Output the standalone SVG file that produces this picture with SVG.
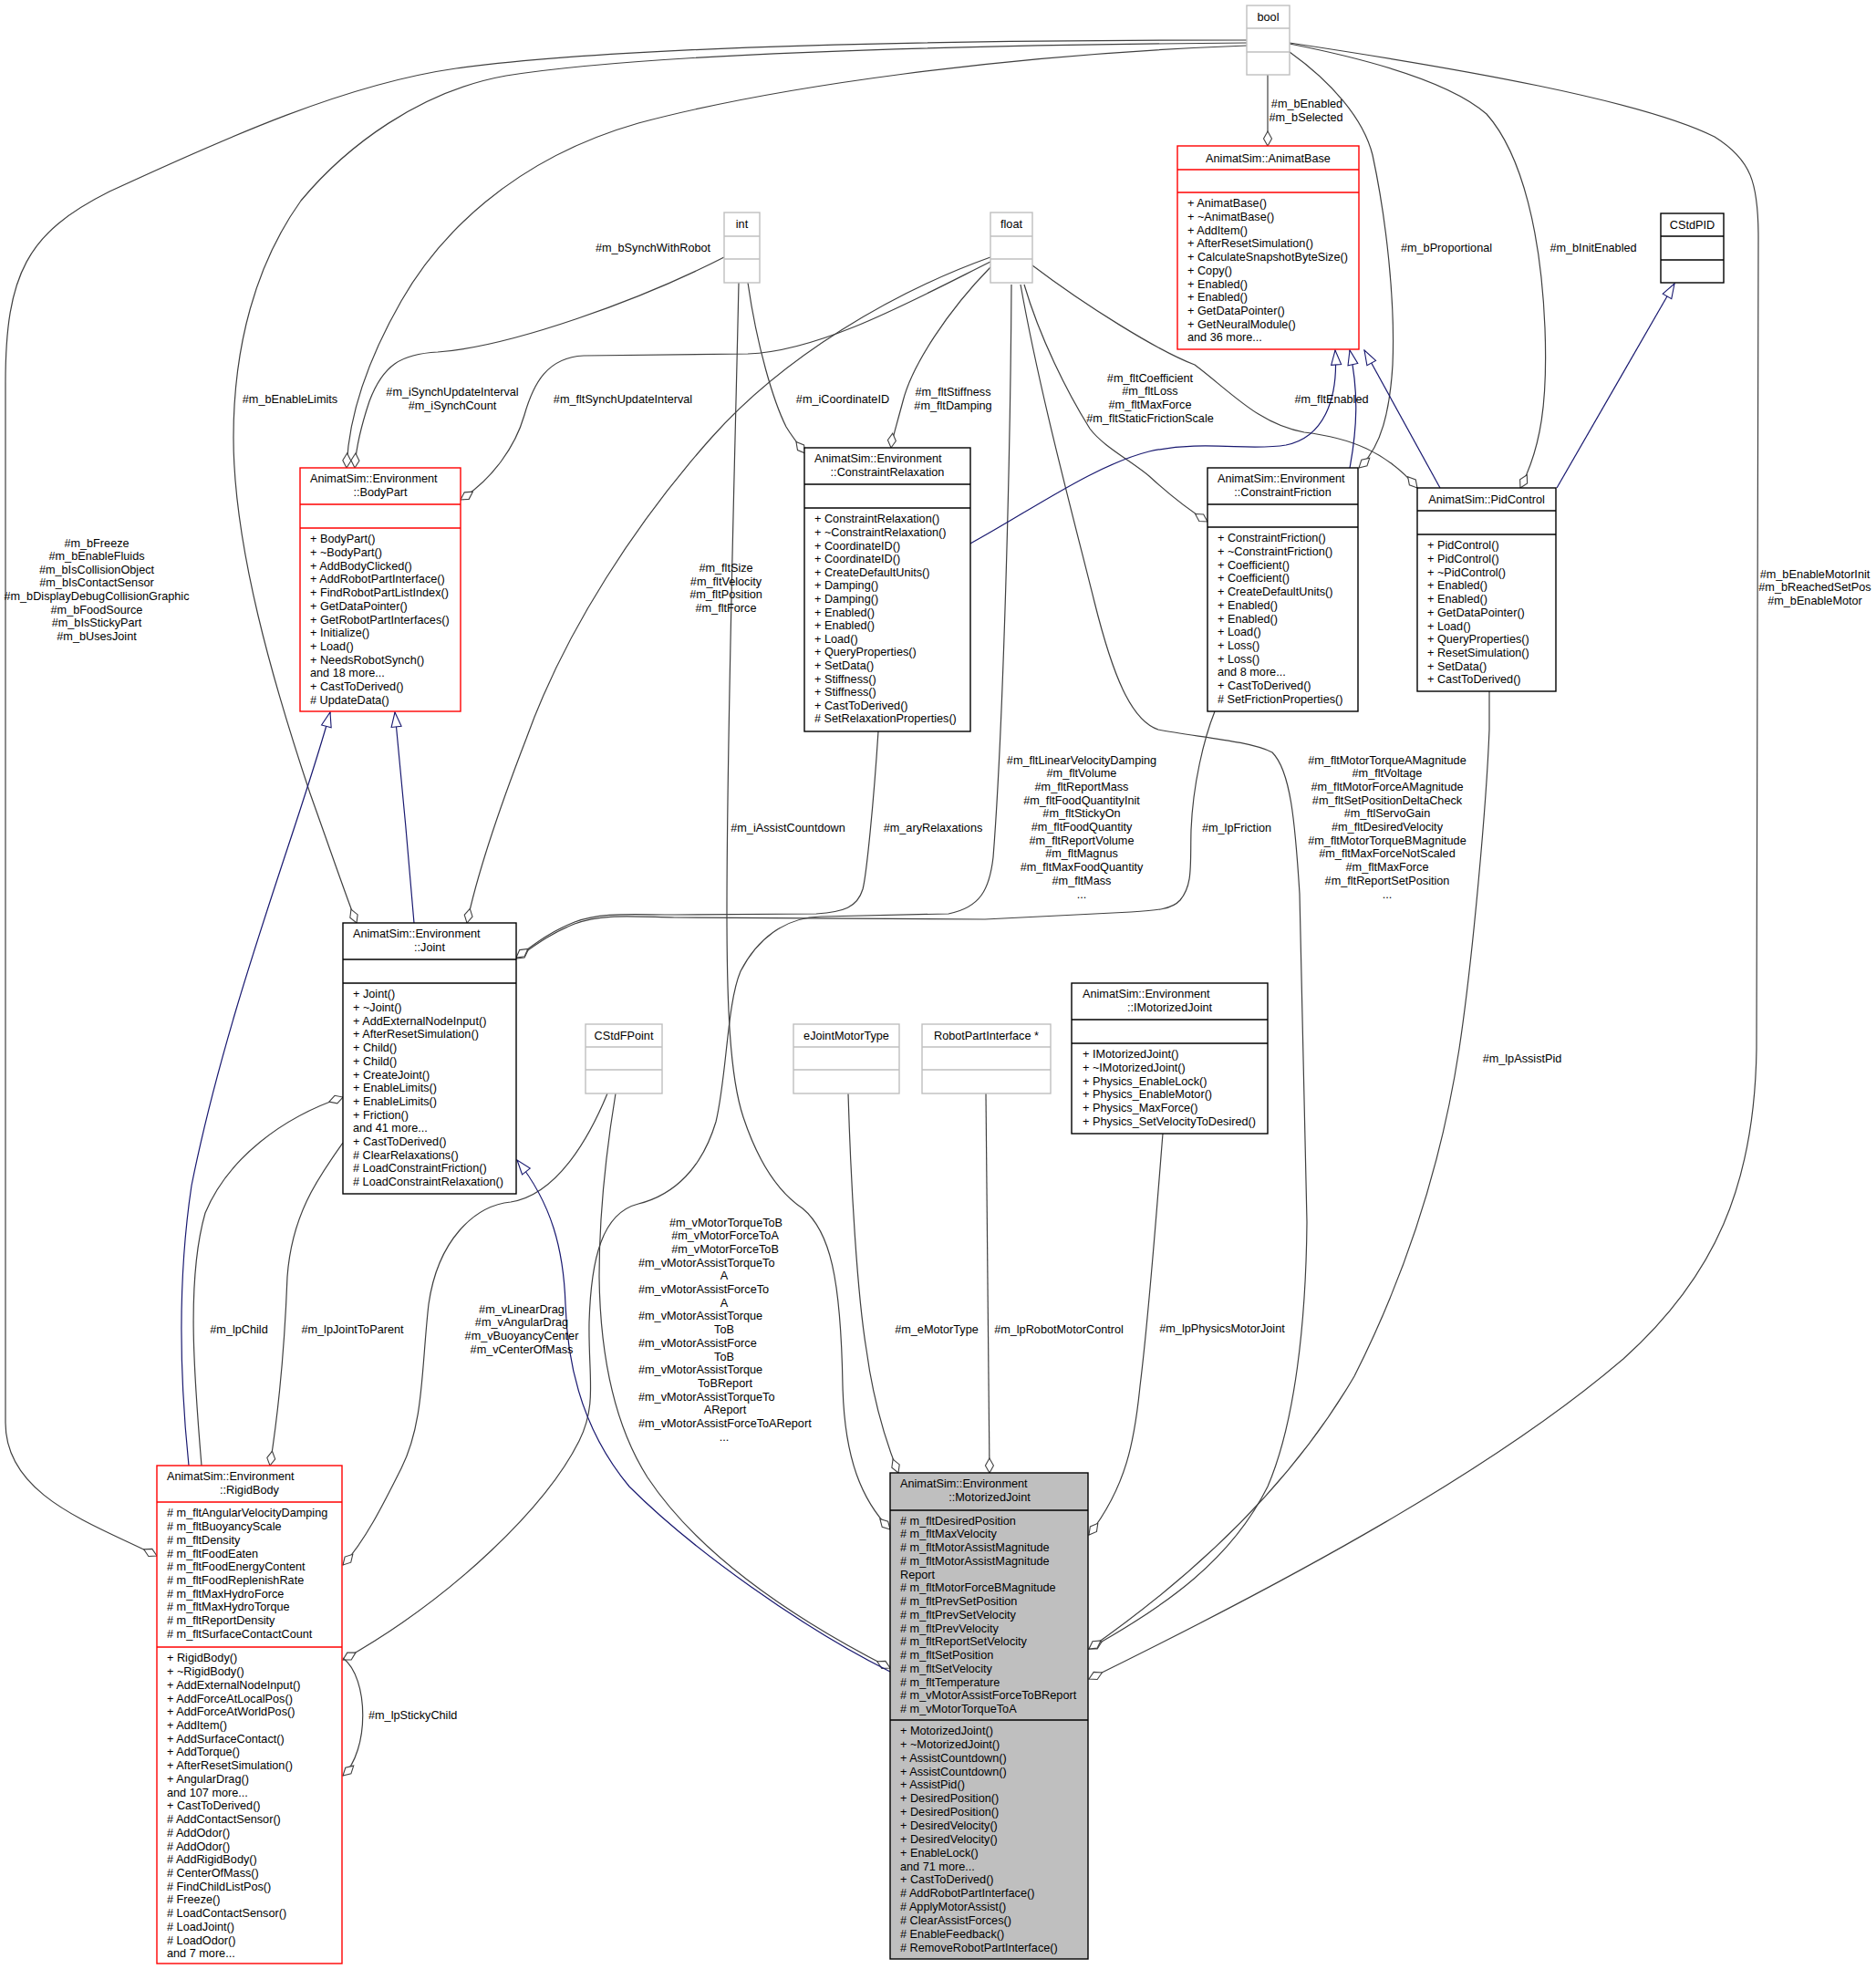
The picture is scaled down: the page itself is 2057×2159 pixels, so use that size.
<svg xmlns="http://www.w3.org/2000/svg" width="2057" height="2159" viewBox="0 0 2057 2159">
<style>
.t{font-family:"Liberation Sans",Arial,Helvetica,sans-serif;font-size:12.7px;fill:#000}
.m{text-anchor:middle}
.e{fill:none;stroke:#404040;stroke-width:1.2}
.b{fill:none;stroke:#191970;stroke-width:1.2}
.n{fill:#fff;stroke:#000;stroke-width:1.4}
.r{fill:#fff;stroke:#ff0000;stroke-width:1.4}
.g{fill:#fff;stroke:#bfbfbf;stroke-width:1.4}
.gf{fill:#bfbfbf;stroke:#000;stroke-width:1.4}
.ln{stroke:#000;stroke-width:1.4}
.lr{stroke:#ff0000;stroke-width:1.4}
.lg{stroke:#bfbfbf;stroke-width:1.4}
.e{marker-end:url(#dia)}
.b{marker-end:url(#tri)}
</style>
<defs>
<marker id="dia" markerUnits="userSpaceOnUse" markerWidth="18" markerHeight="12" viewBox="-1 -6 18 12" refX="16" refY="0" orient="auto"><path d="M0,0 L8,-4.5 L16,0 L8,4.5 Z" fill="#fff" stroke="#404040" stroke-width="1.1"/></marker>
<marker id="tri" markerUnits="userSpaceOnUse" markerWidth="18" markerHeight="14" viewBox="-1 -7 18 14" refX="16" refY="0" orient="auto"><path d="M0,-5.5 L16,0 L0,5.5 Z" fill="#fff" stroke="#191970" stroke-width="1.1"/></marker>
</defs>
<rect width="2057" height="2159" fill="#fff"/>

<g id="connectors">
<path class="e" d="M1367,44 C1100,44 700,48 500,75 C380,92 250,150 120,210 C30,255 6,300 6,420 L6,1560 C6,1640 100,1670 172,1706"/>
<path class="e" d="M1367,47 C1000,50 700,60 555,83 C460,100 380,160 330,220 C280,290 256,380 256,480 C256,600 300,750 340,870 C365,940 382,990 391,1012"/>
<path class="e" d="M1367,50 C1100,60 850,95 700,135 C560,175 480,260 440,330 C400,400 382,460 380,513"/>
<path class="e" d="M1390,82 L1390,160"/>
<path class="e" d="M1414,57 C1460,90 1495,130 1505,170 C1520,240 1530,330 1527,400 C1524,450 1515,490 1490,513"/>
<path class="e" d="M1414,48 C1500,65 1590,90 1630,125 C1670,170 1690,260 1694,360 C1697,440 1690,490 1667,535"/>
<path class="e" d="M1414,47 C1600,75 1800,110 1880,150 C1920,175 1928,200 1928,260 L1926,1150 C1924,1300 1880,1400 1780,1490 C1640,1610 1420,1730 1194,1841"/>
<path class="e" d="M794,282 C700,330 560,380 480,386 C440,388 420,400 405,440 C395,470 390,495 389,513"/>
<path class="e" d="M820,310 C830,380 848,440 862,468 C868,478 875,487 883,497"/>
<path class="e" d="M810,310 C806,500 797,800 797,1000 C797,1100 800,1180 815,1225 C830,1270 850,1305 880,1325 C910,1350 922,1400 924,1520 C926,1600 945,1645 976,1677"/>
<path class="e" d="M1086,287 C1000,330 900,385 820,388 L640,390 C600,392 585,420 575,455 C565,490 540,525 505,548"/>
<path class="e" d="M1086,282 C980,320 860,390 780,480 C700,570 620,690 577,810 C550,880 525,950 512,1012"/>
<path class="e" d="M1086,293 C1040,340 1000,400 990,440 C982,470 978,482 977,491"/>
<path class="e" d="M1123,312 C1140,370 1170,430 1195,470 C1210,490 1240,505 1260,522 C1285,545 1305,560 1324,572"/>
<path class="e" d="M1132,291 C1190,335 1270,385 1310,400 C1350,430 1380,465 1430,474 C1480,480 1520,495 1554,535"/>
<path class="e" d="M1109,312 C1108,500 1100,800 1089,940 C1085,975 1075,995 1040,1002 L900,1005 C860,1006 830,1030 812,1065 C797,1100 797,1180 785,1230 C770,1280 740,1310 700,1320 C660,1330 648,1380 646,1450 C645,1510 655,1540 635,1580 C600,1650 500,1750 376,1820"/>
<path class="e" d="M1119,312 C1140,430 1175,560 1200,660 C1220,740 1240,790 1270,800 C1310,808 1370,812 1395,825 C1415,845 1420,900 1425,980 L1433,1340 C1432,1450 1420,1560 1390,1630 C1350,1710 1280,1760 1194,1808"/>
<path class="e" d="M1332,780 C1320,810 1308,860 1306,910 C1305,950 1308,970 1294,987 C1285,997 1270,998 1240,1000 L1080,1008 L740,1006 C690,1005 660,1002 630,1013 C605,1023 590,1034 566,1051"/>
<path class="e" d="M963,802 C958,880 950,960 946,975 C940,995 925,1000 895,1002 L740,1003 C690,1003 660,1000 630,1011 C605,1021 590,1032 566,1050"/>
<path class="e" d="M1633,758 L1633,800 C1630,880 1615,1050 1600,1150 C1580,1280 1540,1400 1485,1509 C1420,1620 1320,1720 1194,1808"/>
<path class="e" d="M1275,1243 C1268,1330 1260,1440 1250,1520 C1244,1580 1235,1630 1194,1683"/>
<path class="e" d="M1081,1199 C1082,1350 1084,1500 1085,1615"/>
<path class="e" d="M930,1199 C933,1300 940,1420 950,1480 C958,1540 975,1590 985,1615"/>
<path class="e" d="M675,1199 C665,1260 657,1330 657,1400 C658,1480 672,1560 710,1620 C770,1710 880,1780 976,1829"/>
<path class="e" d="M666,1199 C645,1250 610,1310 560,1318 C520,1322 480,1360 470,1430 C462,1500 465,1560 440,1610 C420,1650 400,1690 376,1716"/>
<path class="e" d="M221,1607 C212,1500 205,1400 225,1330 C250,1270 310,1225 376,1203"/>
<path class="e" d="M376,1253 C350,1290 320,1330 315,1400 C312,1480 305,1550 296,1607"/>
<path class="e" d="M376,1818 C405,1840 405,1920 376,1947"/>
<path class="b" d="M976,1833 C880,1785 760,1700 690,1630 C640,1570 622,1500 620,1430 C618,1370 605,1320 567,1272"/>
<path class="b" d="M207,1607 C196,1500 195,1400 210,1300 C250,1100 330,900 362,781"/>
<path class="b" d="M454,1012 C448,940 440,850 433,781"/>
<path class="b" d="M1064,596 C1130,560 1200,510 1260,495 C1320,482 1370,495 1410,488 C1450,480 1468,440 1464,384"/>
<path class="b" d="M1480,513 C1488,470 1490,430 1480,384"/>
<path class="b" d="M1579,535 L1496,384"/>
<path class="b" d="M1707,535 L1836,311"/>

<text class="t m"><tspan x="106" y="599.5">#m_bFreeze</tspan><tspan x="106" y="614.1">#m_bEnableFluids</tspan><tspan x="106" y="628.7">#m_bIsCollisionObject</tspan><tspan x="106" y="643.3">#m_bIsContactSensor</tspan><tspan x="106" y="657.9">#m_bDisplayDebugCollisionGraphic</tspan><tspan x="106" y="672.5">#m_bFoodSource</tspan><tspan x="106" y="687.1">#m_bIsStickyPart</tspan><tspan x="106" y="701.7">#m_bUsesJoint</tspan></text>
<text class="t m" x="318" y="441.5">#m_bEnableLimits</text>
<text class="t m"><tspan x="496" y="433.5">#m_iSynchUpdateInterval</tspan><tspan x="496" y="448.5">#m_iSynchCount</tspan></text>
<text class="t m" x="716" y="275.5">#m_bSynchWithRobot</text>
<text class="t m" x="683" y="441.5">#m_fltSynchUpdateInterval</text>
<text class="t m" x="924" y="441.5">#m_iCoordinateID</text>
<text class="t m"><tspan x="1045" y="433.5">#m_fltStiffness</tspan><tspan x="1045" y="448.5">#m_fltDamping</tspan></text>
<text class="t m"><tspan x="1261" y="418.5">#m_fltCoefficient</tspan><tspan x="1261" y="433.2">#m_fltLoss</tspan><tspan x="1261" y="447.9">#m_fltMaxForce</tspan><tspan x="1261" y="462.6">#m_fltStaticFrictionScale</tspan></text>
<text class="t m"><tspan x="1433" y="117.5">#m_bEnabled</tspan><tspan x="1432" y="132.5">#m_bSelected</tspan></text>
<text class="t m" x="1460" y="441.5">#m_fltEnabled</text>
<text class="t m" x="1586" y="275.5">#m_bProportional</text>
<text class="t m" x="1747" y="275.5">#m_bInitEnabled</text>
<text class="t m"><tspan x="1990" y="633.5">#m_bEnableMotorInit</tspan><tspan x="1990" y="648">#m_bReachedSetPos</tspan><tspan x="1990" y="662.5">#m_bEnableMotor</tspan></text>
<text class="t m"><tspan x="796" y="627">#m_fltSize</tspan><tspan x="796" y="641.7">#m_fltVelocity</tspan><tspan x="796" y="656.4">#m_fltPosition</tspan><tspan x="796" y="671.1">#m_fltForce</tspan></text>
<text class="t m" x="864" y="911.5">#m_iAssistCountdown</text>
<text class="t m" x="1023" y="911.5">#m_aryRelaxations</text>
<text class="t m"><tspan x="1186" y="837.5">#m_fltLinearVelocityDamping</tspan><tspan x="1186" y="852.2">#m_fltVolume</tspan><tspan x="1186" y="866.9">#m_fltReportMass</tspan><tspan x="1186" y="881.6">#m_fltFoodQuantityInit</tspan><tspan x="1186" y="896.3">#m_fltStickyOn</tspan><tspan x="1186" y="911">#m_fltFoodQuantity</tspan><tspan x="1186" y="925.7">#m_fltReportVolume</tspan><tspan x="1186" y="940.4">#m_fltMagnus</tspan><tspan x="1186" y="955.1">#m_fltMaxFoodQuantity</tspan><tspan x="1186" y="969.8">#m_fltMass</tspan><tspan x="1186" y="984.5">...</tspan></text>
<text class="t m" x="1356" y="911.5">#m_lpFriction</text>
<text class="t m"><tspan x="1521" y="837.5">#m_fltMotorTorqueAMagnitude</tspan><tspan x="1521" y="852.2">#m_fltVoltage</tspan><tspan x="1521" y="866.9">#m_fltMotorForceAMagnitude</tspan><tspan x="1521" y="881.6">#m_fltSetPositionDeltaCheck</tspan><tspan x="1521" y="896.3">#m_ftlServoGain</tspan><tspan x="1521" y="911">#m_fltDesiredVelocity</tspan><tspan x="1521" y="925.7">#m_fltMotorTorqueBMagnitude</tspan><tspan x="1521" y="940.4">#m_fltMaxForceNotScaled</tspan><tspan x="1521" y="955.1">#m_fltMaxForce</tspan><tspan x="1521" y="969.8">#m_fltReportSetPosition</tspan><tspan x="1521" y="984.5">...</tspan></text>
<text class="t m" x="1669" y="1164.5">#m_lpAssistPid</text>
<text class="t m" x="1340" y="1460.5">#m_lpPhysicsMotorJoint</text>
<text class="t m" x="1161" y="1461.5">#m_lpRobotMotorControl</text>
<text class="t m" x="1027" y="1461.5">#m_eMotorType</text>
<text class="t"><tspan x="796" y="1344.5" text-anchor="middle">#m_vMotorTorqueToB</tspan><tspan x="795" y="1359.2" text-anchor="middle">#m_vMotorForceToA</tspan><tspan x="795" y="1373.9" text-anchor="middle">#m_vMotorForceToB</tspan><tspan x="700" y="1388.6">#m_vMotorAssistTorqueTo</tspan><tspan x="794" y="1403.3" text-anchor="middle">A</tspan><tspan x="700" y="1418">#m_vMotorAssistForceTo</tspan><tspan x="794" y="1432.7" text-anchor="middle">A</tspan><tspan x="700" y="1447.4">#m_vMotorAssistTorque</tspan><tspan x="794" y="1462.1" text-anchor="middle">ToB</tspan><tspan x="700" y="1476.8">#m_vMotorAssistForce</tspan><tspan x="794" y="1491.5" text-anchor="middle">ToB</tspan><tspan x="700" y="1506.2">#m_vMotorAssistTorque</tspan><tspan x="795" y="1520.9" text-anchor="middle">ToBReport</tspan><tspan x="700" y="1535.6">#m_vMotorAssistTorqueTo</tspan><tspan x="795" y="1550.3" text-anchor="middle">AReport</tspan><tspan x="700" y="1565">#m_vMotorAssistForceToAReport</tspan><tspan x="794" y="1579.7" text-anchor="middle">...</tspan></text>
<text class="t m"><tspan x="572" y="1439.5">#m_vLinearDrag</tspan><tspan x="572" y="1454.2">#m_vAngularDrag</tspan><tspan x="572" y="1468.9">#m_vBuoyancyCenter</tspan><tspan x="572" y="1483.6">#m_vCenterOfMass</tspan></text>
<text class="t m" x="262" y="1461.5">#m_lpChild</text>
<text class="t m" x="386.5" y="1461.5">#m_lpJointToParent</text>
<text class="t" x="404" y="1884.5">#m_lpStickyChild</text>
</g>

<g id="bool"><rect class="g" x="1367" y="6" width="47" height="76"/><line class="lg" x1="1367" y1="31" x2="1414" y2="31"/><line class="lg" x1="1367" y1="57" x2="1414" y2="57"/><text class="t m" x="1390.5" y="23">bool</text></g>
<g id="int"><rect class="g" x="794" y="233" width="39" height="77"/><line class="lg" x1="794" y1="259" x2="833" y2="259"/><line class="lg" x1="794" y1="284" x2="833" y2="284"/><text class="t m" x="813.5" y="250">int</text></g>
<g id="float"><rect class="g" x="1086" y="233" width="46" height="77"/><line class="lg" x1="1086" y1="259" x2="1132" y2="259"/><line class="lg" x1="1086" y1="284" x2="1132" y2="284"/><text class="t m" x="1109" y="250">float</text></g>
<g id="CStdPID"><rect class="n" x="1821" y="234" width="69" height="76"/><line class="ln" x1="1821" y1="259" x2="1890" y2="259"/><line class="ln" x1="1821" y1="285" x2="1890" y2="285"/><text class="t m" x="1855.5" y="251">CStdPID</text></g>
<g id="CStdFPoint"><rect class="g" x="642" y="1123" width="84" height="76"/><line class="lg" x1="642" y1="1148" x2="726" y2="1148"/><line class="lg" x1="642" y1="1173" x2="726" y2="1173"/><text class="t m" x="684" y="1140">CStdFPoint</text></g>
<g id="eJointMotorType"><rect class="g" x="870" y="1123" width="116" height="76"/><line class="lg" x1="870" y1="1148" x2="986" y2="1148"/><line class="lg" x1="870" y1="1173" x2="986" y2="1173"/><text class="t m" x="928" y="1140">eJointMotorType</text></g>
<g id="RobotPartInterface"><rect class="g" x="1011" y="1123" width="141" height="76"/><line class="lg" x1="1011" y1="1148" x2="1152" y2="1148"/><line class="lg" x1="1011" y1="1173" x2="1152" y2="1173"/><text class="t m" x="1081.5" y="1140">RobotPartInterface *</text></g>

<g id="AnimatBase"><rect class="r" x="1291" y="160" width="199" height="223"/><line class="lr" x1="1291" y1="186" x2="1490" y2="186"/><line class="lr" x1="1291" y1="211" x2="1490" y2="211"/><text class="t m" x="1390.5" y="177.5">AnimatSim::AnimatBase</text>
<text class="t"><tspan x="1302" y="227.3">+ AnimatBase()</tspan><tspan x="1302" y="242">+ ~AnimatBase()</tspan><tspan x="1302" y="256.7">+ AddItem()</tspan><tspan x="1302" y="271.4">+ AfterResetSimulation()</tspan><tspan x="1302" y="286.1">+ CalculateSnapshotByteSize()</tspan><tspan x="1302" y="300.8">+ Copy()</tspan><tspan x="1302" y="315.5">+ Enabled()</tspan><tspan x="1302" y="330.2">+ Enabled()</tspan><tspan x="1302" y="344.9">+ GetDataPointer()</tspan><tspan x="1302" y="359.6">+ GetNeuralModule()</tspan><tspan x="1302" y="374.3">and 36 more...</tspan></text></g>

<g id="BodyPart"><rect class="r" x="329" y="513" width="176" height="267"/><line class="lr" x1="329" y1="553" x2="505" y2="553"/><line class="lr" x1="329" y1="579" x2="505" y2="579"/><text class="t" x="340" y="529.3">AnimatSim::Environment</text><text class="t m" x="417" y="544">::BodyPart</text>
<text class="t"><tspan x="340" y="595.3">+ BodyPart()</tspan><tspan x="340" y="610">+ ~BodyPart()</tspan><tspan x="340" y="624.7">+ AddBodyClicked()</tspan><tspan x="340" y="639.4">+ AddRobotPartInterface()</tspan><tspan x="340" y="654.1">+ FindRobotPartListIndex()</tspan><tspan x="340" y="668.8">+ GetDataPointer()</tspan><tspan x="340" y="683.5">+ GetRobotPartInterfaces()</tspan><tspan x="340" y="698.2">+ Initialize()</tspan><tspan x="340" y="712.9">+ Load()</tspan><tspan x="340" y="727.6">+ NeedsRobotSynch()</tspan><tspan x="340" y="742.3">and 18 more...</tspan><tspan x="340" y="757">+ CastToDerived()</tspan><tspan x="340" y="771.7"># UpdateData()</tspan></text></g>

<g id="ConstraintRelaxation"><rect class="n" x="882" y="491" width="182" height="311"/><line class="ln" x1="882" y1="531" x2="1064" y2="531"/><line class="ln" x1="882" y1="557" x2="1064" y2="557"/><text class="t" x="893" y="507.3">AnimatSim::Environment</text><text class="t m" x="973" y="522">::ConstraintRelaxation</text>
<text class="t"><tspan x="893" y="573.3">+ ConstraintRelaxation()</tspan><tspan x="893" y="587.9">+ ~ConstraintRelaxation()</tspan><tspan x="893" y="602.5">+ CoordinateID()</tspan><tspan x="893" y="617.1">+ CoordinateID()</tspan><tspan x="893" y="631.7">+ CreateDefaultUnits()</tspan><tspan x="893" y="646.3">+ Damping()</tspan><tspan x="893" y="660.9">+ Damping()</tspan><tspan x="893" y="675.5">+ Enabled()</tspan><tspan x="893" y="690.1">+ Enabled()</tspan><tspan x="893" y="704.7">+ Load()</tspan><tspan x="893" y="719.3">+ QueryProperties()</tspan><tspan x="893" y="733.9">+ SetData()</tspan><tspan x="893" y="748.5">+ Stiffness()</tspan><tspan x="893" y="763.1">+ Stiffness()</tspan><tspan x="893" y="777.7">+ CastToDerived()</tspan><tspan x="893" y="792.3"># SetRelaxationProperties()</tspan></text></g>

<g id="ConstraintFriction"><rect class="n" x="1324" y="513" width="165" height="267"/><line class="ln" x1="1324" y1="553" x2="1489" y2="553"/><line class="ln" x1="1324" y1="578" x2="1489" y2="578"/><text class="t" x="1335" y="529.3">AnimatSim::Environment</text><text class="t m" x="1406.5" y="544">::ConstraintFriction</text>
<text class="t"><tspan x="1335" y="594.3">+ ConstraintFriction()</tspan><tspan x="1335" y="609">+ ~ConstraintFriction()</tspan><tspan x="1335" y="623.7">+ Coefficient()</tspan><tspan x="1335" y="638.4">+ Coefficient()</tspan><tspan x="1335" y="653.1">+ CreateDefaultUnits()</tspan><tspan x="1335" y="667.8">+ Enabled()</tspan><tspan x="1335" y="682.5">+ Enabled()</tspan><tspan x="1335" y="697.2">+ Load()</tspan><tspan x="1335" y="711.9">+ Loss()</tspan><tspan x="1335" y="726.6">+ Loss()</tspan><tspan x="1335" y="741.3">and 8 more...</tspan><tspan x="1335" y="756">+ CastToDerived()</tspan><tspan x="1335" y="770.7"># SetFrictionProperties()</tspan></text></g>

<g id="PidControl"><rect class="n" x="1554" y="535" width="152" height="223"/><line class="ln" x1="1554" y1="560" x2="1706" y2="560"/><line class="ln" x1="1554" y1="586" x2="1706" y2="586"/><text class="t m" x="1630" y="552">AnimatSim::PidControl</text>
<text class="t"><tspan x="1565" y="602.3">+ PidControl()</tspan><tspan x="1565" y="617">+ PidControl()</tspan><tspan x="1565" y="631.7">+ ~PidControl()</tspan><tspan x="1565" y="646.4">+ Enabled()</tspan><tspan x="1565" y="661.1">+ Enabled()</tspan><tspan x="1565" y="675.8">+ GetDataPointer()</tspan><tspan x="1565" y="690.5">+ Load()</tspan><tspan x="1565" y="705.2">+ QueryProperties()</tspan><tspan x="1565" y="719.9">+ ResetSimulation()</tspan><tspan x="1565" y="734.6">+ SetData()</tspan><tspan x="1565" y="749.3">+ CastToDerived()</tspan></text></g>

<g id="Joint"><rect class="n" x="376" y="1012" width="190" height="297"/><line class="ln" x1="376" y1="1052" x2="566" y2="1052"/><line class="ln" x1="376" y1="1078" x2="566" y2="1078"/><text class="t" x="387" y="1028.3">AnimatSim::Environment</text><text class="t m" x="471" y="1043">::Joint</text>
<text class="t"><tspan x="387" y="1094.3">+ Joint()</tspan><tspan x="387" y="1109">+ ~Joint()</tspan><tspan x="387" y="1123.7">+ AddExternalNodeInput()</tspan><tspan x="387" y="1138.4">+ AfterResetSimulation()</tspan><tspan x="387" y="1153.1">+ Child()</tspan><tspan x="387" y="1167.8">+ Child()</tspan><tspan x="387" y="1182.5">+ CreateJoint()</tspan><tspan x="387" y="1197.2">+ EnableLimits()</tspan><tspan x="387" y="1211.9">+ EnableLimits()</tspan><tspan x="387" y="1226.6">+ Friction()</tspan><tspan x="387" y="1241.3">and 41 more...</tspan><tspan x="387" y="1256">+ CastToDerived()</tspan><tspan x="387" y="1270.7"># ClearRelaxations()</tspan><tspan x="387" y="1285.4"># LoadConstraintFriction()</tspan><tspan x="387" y="1300.1"># LoadConstraintRelaxation()</tspan></text></g>

<g id="IMotorizedJoint"><rect class="n" x="1175" y="1078" width="215" height="165"/><line class="ln" x1="1175" y1="1118" x2="1390" y2="1118"/><line class="ln" x1="1175" y1="1144" x2="1390" y2="1144"/><text class="t" x="1187" y="1094.3">AnimatSim::Environment</text><text class="t m" x="1282.5" y="1109">::IMotorizedJoint</text>
<text class="t"><tspan x="1187" y="1160.3">+ IMotorizedJoint()</tspan><tspan x="1187" y="1175">+ ~IMotorizedJoint()</tspan><tspan x="1187" y="1189.7">+ Physics_EnableLock()</tspan><tspan x="1187" y="1204.4">+ Physics_EnableMotor()</tspan><tspan x="1187" y="1219.1">+ Physics_MaxForce()</tspan><tspan x="1187" y="1233.8">+ Physics_SetVelocityToDesired()</tspan></text></g>

<g id="RigidBody"><rect class="r" x="172" y="1607" width="203" height="546"/><line class="lr" x1="172" y1="1647" x2="375" y2="1647"/><line class="lr" x1="172" y1="1806" x2="375" y2="1806"/><text class="t" x="183" y="1623.3">AnimatSim::Environment</text><text class="t m" x="273.5" y="1638">::RigidBody</text>
<text class="t"><tspan x="183" y="1663.3"># m_fltAngularVelocityDamping</tspan><tspan x="183" y="1678"># m_fltBuoyancyScale</tspan><tspan x="183" y="1692.8"># m_fltDensity</tspan><tspan x="183" y="1707.5"># m_fltFoodEaten</tspan><tspan x="183" y="1722.2"># m_fltFoodEnergyContent</tspan><tspan x="183" y="1737"># m_fltFoodReplenishRate</tspan><tspan x="183" y="1751.7"># m_fltMaxHydroForce</tspan><tspan x="183" y="1766.4"># m_fltMaxHydroTorque</tspan><tspan x="183" y="1781.1"># m_fltReportDensity</tspan><tspan x="183" y="1795.9"># m_fltSurfaceContactCount</tspan></text>
<text class="t"><tspan x="183" y="1822.3">+ RigidBody()</tspan><tspan x="183" y="1837">+ ~RigidBody()</tspan><tspan x="183" y="1851.8">+ AddExternalNodeInput()</tspan><tspan x="183" y="1866.5">+ AddForceAtLocalPos()</tspan><tspan x="183" y="1881.2">+ AddForceAtWorldPos()</tspan><tspan x="183" y="1896">+ AddItem()</tspan><tspan x="183" y="1910.7">+ AddSurfaceContact()</tspan><tspan x="183" y="1925.4">+ AddTorque()</tspan><tspan x="183" y="1940.1">+ AfterResetSimulation()</tspan><tspan x="183" y="1954.9">+ AngularDrag()</tspan><tspan x="183" y="1969.6">and 107 more...</tspan><tspan x="183" y="1984.3">+ CastToDerived()</tspan><tspan x="183" y="1999.1"># AddContactSensor()</tspan><tspan x="183" y="2013.8"># AddOdor()</tspan><tspan x="183" y="2028.5"># AddOdor()</tspan><tspan x="183" y="2043.3"># AddRigidBody()</tspan><tspan x="183" y="2058"># CenterOfMass()</tspan><tspan x="183" y="2072.7"># FindChildListPos()</tspan><tspan x="183" y="2087.4"># Freeze()</tspan><tspan x="183" y="2102.2"># LoadContactSensor()</tspan><tspan x="183" y="2116.9"># LoadJoint()</tspan><tspan x="183" y="2131.6"># LoadOdor()</tspan><tspan x="183" y="2146.4">and 7 more...</tspan></text></g>

<g id="MotorizedJoint"><rect class="gf" x="976" y="1615" width="217" height="533"/><line class="ln" x1="976" y1="1656" x2="1193" y2="1656"/><line class="ln" x1="976" y1="1886" x2="1193" y2="1886"/><text class="t" x="987" y="1631.3">AnimatSim::Environment</text><text class="t m" x="1085" y="1646">::MotorizedJoint</text>
<text class="t"><tspan x="987" y="1671.5"># m_fltDesiredPosition</tspan><tspan x="987" y="1686.3"># m_fltMaxVelocity</tspan><tspan x="987" y="1701"># m_fltMotorAssistMagnitude</tspan><tspan x="987" y="1715.8"># m_fltMotorAssistMagnitude</tspan><tspan x="987" y="1730.5">Report</tspan><tspan x="987" y="1745.3"># m_fltMotorForceBMagnitude</tspan><tspan x="987" y="1760"># m_fltPrevSetPosition</tspan><tspan x="987" y="1774.8"># m_fltPrevSetVelocity</tspan><tspan x="987" y="1789.5"># m_fltPrevVelocity</tspan><tspan x="987" y="1804.3"># m_fltReportSetVelocity</tspan><tspan x="987" y="1819"># m_fltSetPosition</tspan><tspan x="987" y="1833.8"># m_fltSetVelocity</tspan><tspan x="987" y="1848.5"># m_fltTemperature</tspan><tspan x="987" y="1863.3"># m_vMotorAssistForceToBReport</tspan><tspan x="987" y="1878"># m_vMotorTorqueToA</tspan></text>
<text class="t"><tspan x="987" y="1902">+ MotorizedJoint()</tspan><tspan x="987" y="1916.9">+ ~MotorizedJoint()</tspan><tspan x="987" y="1931.7">+ AssistCountdown()</tspan><tspan x="987" y="1946.6">+ AssistCountdown()</tspan><tspan x="987" y="1961.4">+ AssistPid()</tspan><tspan x="987" y="1976.3">+ DesiredPosition()</tspan><tspan x="987" y="1991.1">+ DesiredPosition()</tspan><tspan x="987" y="2006">+ DesiredVelocity()</tspan><tspan x="987" y="2020.8">+ DesiredVelocity()</tspan><tspan x="987" y="2035.7">+ EnableLock()</tspan><tspan x="987" y="2050.5">and 71 more...</tspan><tspan x="987" y="2065.4">+ CastToDerived()</tspan><tspan x="987" y="2080.2"># AddRobotPartInterface()</tspan><tspan x="987" y="2095.1"># ApplyMotorAssist()</tspan><tspan x="987" y="2109.9"># ClearAssistForces()</tspan><tspan x="987" y="2124.8"># EnableFeedback()</tspan><tspan x="987" y="2139.6"># RemoveRobotPartInterface()</tspan></text></g>
</svg>
